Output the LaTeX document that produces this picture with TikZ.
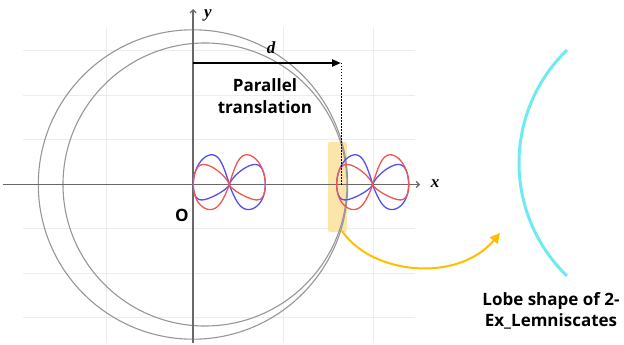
\documentclass[tikz,border=0pt]{standalone}
\usepackage{fontspec}
\newfontfamily\labelfont{Open Sans}
\newfontfamily\varfont{Liberation Serif}
\usetikzlibrary{arrows.meta}
\definecolor{gridc}{RGB}{236,236,236}
\definecolor{axisc}{RGB}{105,105,105}
\definecolor{circc}{RGB}{150,150,150}
\definecolor{lblue}{RGB}{80,80,245}
\definecolor{lred}{RGB}{240,85,85}
\definecolor{hly}{RGB}{251,229,168}
\definecolor{arrowor}{RGB}{255,190,0}
\definecolor{lobec}{RGB}{110,235,242}
\tikzset{
  gridline/.style={gridc, line width=0.9pt},
  axisline/.style={axisc, line width=1.2pt, -{Straight Barb[length=3pt,width=6pt]}},
  circline/.style={circc, line width=1.1pt},
  lbl/.style={font=\labelfont\bfseries\fontsize{17}{21.5}\selectfont, inner sep=0pt, align=center},
  varlbl/.style={font=\varfont\bfseries\itshape\fontsize{17}{20}\selectfont, inner sep=0pt},
  lemblue/.style={lblue, line width=1.3pt},
  lemred/.style={lred, line width=1.3pt},
}
\begin{document}
\begin{tikzpicture}[x=1pt,y=-1pt,
  declare function={
    lobeY(\p,\h,\s)=\h*sin(\p)*pow(sin(\p/2)+0.0001,0.7)/0.821+\s*sin(\p)*sin(\p);
    lobeX(\p,\d,\h,\s)=\d*36*(1-cos(\p))/2+0.12*lobeY(\p,\h,\s)*sin(\p)*sin(\p);
  }]
\useasboundingbox (0,0) rectangle (624,345);
% grid
\foreach \gy in {50,95,139,228,273,317} \draw[gridline] (23,\gy) -- (415,\gy);
\foreach \gx in {106,283,373} \draw[gridline] (\gx,27) -- (\gx,343);
% highlight
\node[fill=hly, rounded corners=2pt, minimum width=19pt, minimum height=90pt, inner sep=0pt] (hl) at (337.5,187) {};
% circles
\coordinate (O) at (193,184.5);
\draw[circline] (O) ellipse [x radius=154.7, y radius=154.7];
\coordinate (C2) at (205,184.5);
\draw[circline] (C2) ellipse [x radius=142, y radius=141.5];
% axes
\coordinate (xs) at (3,184.5);
\coordinate (xe) at (420,184.5);
\coordinate (ys) at (193,343);
\coordinate (ye) at (193,9);
\draw[axisline] (xs) -- (xe);
\draw[axisline] (ys) -- (ye);
\node[varlbl] (xl) at (435,184) {x};
\node[varlbl] (yl) at (208,15) {y};
\node[lbl] (ol) at (182,215) {O};
% lemniscates (each lobe: teardrop from the crossing point)
\foreach \cx in {229.3,372.7} {
  \draw[lemblue] plot[domain=0:360, samples=91, smooth, variable=\p]
    ({\cx + lobeX(\p,-1,22.25,7.8)}, {184.5 - lobeY(\p,22.25,7.8)});
  \draw[lemblue] plot[domain=0:360, samples=91, smooth, variable=\p]
    ({\cx + lobeX(\p,1,22.5,-2.7)}, {184.5 - lobeY(\p,22.5,-2.7)});
  \draw[lemred] plot[domain=0:360, samples=91, smooth, variable=\p]
    ({\cx - lobeX(\p,-1,22.25,7.8)}, {184.5 - lobeY(\p,22.25,7.8)});
  \draw[lemred] plot[domain=0:360, samples=91, smooth, variable=\p]
    ({\cx - lobeX(\p,1,22.5,-2.7)}, {184.5 - lobeY(\p,22.5,-2.7)});
}
% translation arrow
\coordinate (ds) at (193,63);
\coordinate (de) at (341,63);
\coordinate (df) at (341,184.5);
\draw[black, line width=0.8pt, dash pattern=on 1.5pt off 1.5pt] (de) -- (df);
\draw[black, line width=2.2pt, -{Triangle[length=9pt,width=7pt]}] (ds) -- (de);
\node[varlbl] (dl) at (271,48) {d};
\node[lbl] (pt) at (265,96) {Parallel\\translation};
% lobe arc
\draw[lobec, line width=3pt] plot[domain=-46:46, samples=60, smooth, variable=\t]
  ({676 - 157*cos(\t)}, {163 + 157*sin(\t)});
\coordinate (lobe) at (500,233);
\coordinate (as) at (342,231);
\draw[arrowor, line width=2pt, -{Triangle[length=10pt,width=10pt]}] (as) .. controls (372,275) and (458,283) .. (lobe);
\node[lbl] (lt) at (551,311) {Lobe shape of 2-\\Ex\_Lemniscates};
\end{tikzpicture}
\end{document}
